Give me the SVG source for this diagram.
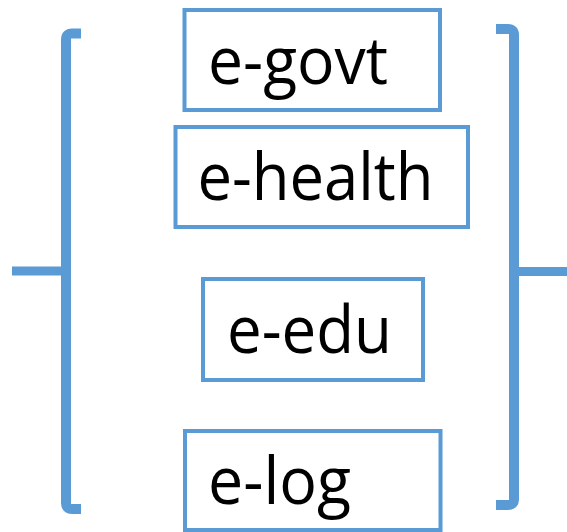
<svg xmlns="http://www.w3.org/2000/svg" width="567" height="532" viewBox="0 0 567 532">
  <style>
    .box { fill: #FFFFFF; stroke: #5B9BD5; stroke-width: 4; }
    .lbl { font-family: "Open Sans", "Noto Sans", "Liberation Sans", sans-serif; font-size: 66px; fill: #000000; }
    .brk { fill: none; stroke: #5B9BD5; stroke-width: 10; stroke-linecap: butt; stroke-linejoin: round; }
    .stub { fill: none; stroke: #5B9BD5; stroke-width: 9; stroke-linecap: butt; }
  </style>
  <rect x="0" y="0" width="567" height="532" fill="#FFFFFF"/>
  <g id="connectors">
    <path class="brk" d="M81,33.5 H72 Q66,33.5 66,39.5 V503 Q66,509 72,509 H81"/>
    <path class="stub" d="M12,271 H66"/>
    <path class="brk" d="M496,29 H508 Q514,29 514,35 V499 Q514,505 508,505 H496"/>
    <path class="stub" d="M514,271.5 H567"/>
  </g>
  <g id="node-egovt">
    <rect class="box" x="184.5" y="10" width="255.5" height="100"/>
    <text class="lbl" x="208" y="83.5" textLength="180" lengthAdjust="spacingAndGlyphs">e-govt</text>
  </g>
  <g id="node-ehealth">
    <rect class="box" x="175.5" y="127" width="292.5" height="100"/>
    <text class="lbl" x="197.5" y="200" textLength="236" lengthAdjust="spacingAndGlyphs">e-health</text>
  </g>
  <g id="node-eedu">
    <rect class="box" x="203" y="279" width="220" height="101"/>
    <text class="lbl" x="227" y="352.7" textLength="165" lengthAdjust="spacingAndGlyphs">e-edu</text>
  </g>
  <g id="node-elog">
    <rect class="box" x="185" y="431" width="255.5" height="99"/>
    <text class="lbl" x="208" y="503.7" textLength="143" lengthAdjust="spacingAndGlyphs">e-log</text>
  </g>
</svg>
